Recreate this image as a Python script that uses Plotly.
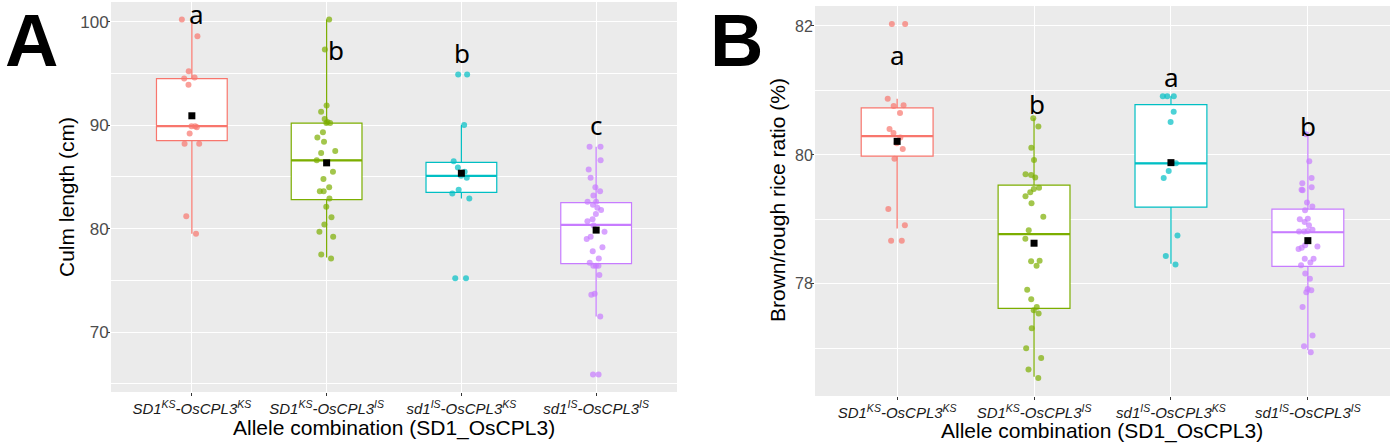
import plotly.graph_objects as go

# ---------------- data ----------------
categories = ["SD1KS-OsCPL3KS", "SD1KS-OsCPL3IS", "sd1IS-OsCPL3KS", "sd1IS-OsCPL3IS"]
tick_labels = [
    "<i>SD1<sup>KS</sup>-OsCPL3<sup>KS</sup></i>",
    "<i>SD1<sup>KS</sup>-OsCPL3<sup>IS</sup></i>",
    "<i>sd1<sup>IS</sup>-OsCPL3<sup>KS</sup></i>",
    "<i>sd1<sup>IS</sup>-OsCPL3<sup>IS</sup></i>",
]

# Panel A: culm length (cm)
culm_g1 = [100.2, 98.6, 95.2, 94.6, 94.5, 93.9, 89.9, 89.9, 89.8, 89.2, 88.2, 88.2, 81.2, 79.5]
culm_g2 = [100.2, 97.3, 91.9, 91.3, 90.6, 90.2, 90.3, 90.2, 89.3, 88.8, 88.4, 87.5, 87.3, 86.6,
           85.5, 84.8, 84.0, 83.6, 83.6, 82.9, 82.1, 81.1, 80.4, 79.7, 79.2, 77.5, 77.1]
culm_g3 = [94.9, 94.9, 90.0, 86.5, 85.9, 85.5, 85.1, 84.9, 83.75, 83.4, 82.9, 75.2, 75.2]
culm_g4 = [87.9, 87.9, 86.6, 85.7, 84.9, 84.0, 83.6, 83.2, 82.6, 82.3, 82.6, 82.0, 81.8, 81.4,
           80.9, 80.7, 80.3, 79.7, 79.2, 79.0, 78.2, 77.8, 77.1, 76.7, 76.4, 76.4, 76.4, 75.5,
           73.7, 73.6, 71.5, 65.9, 65.9]
culm_q1 = [88.5, 82.8, 83.5, 76.6]
culm_median = [89.9, 86.6, 85.1, 80.35]
culm_q3 = [94.5, 90.2, 86.4, 82.5]
culm_lower = [79.5, 77.2, 82.9, 71.5]
culm_upper = [100.2, 100.2, 90.0, 87.9]
culm_mean = [90.9, 86.35, 85.35, 79.85]
culm_letters = ["a", "b", "b", "c"]
culm_letter_y = [100.7, 97.3, 97.0, 90.0]

# Panel B: brown/rough rice ratio (%)
ratio_g1 = [82.03, 82.03, 80.87, 80.77, 80.76, 80.65, 80.40, 80.34, 80.27, 80.18, 80.09, 79.94,
            79.16, 78.91, 78.67, 78.67]
ratio_g2 = [80.57, 80.44, 80.11, 79.92, 79.69, 79.65, 79.70, 79.49, 79.42, 79.47, 79.36, 79.25,
            79.04, 78.83, 78.70, 78.35, 78.28, 78.36, 77.91, 77.76, 77.59, 77.64, 77.54, 77.31,
            77.00, 76.85, 76.67, 76.54]
ratio_g3 = [80.91, 80.91, 80.91, 80.67, 80.51, 79.87, 79.75, 79.64, 78.75, 78.43, 78.30]
ratio_g4 = [80.32, 79.90, 79.64, 79.56, 79.46, 79.45, 79.50, 79.26, 79.20, 79.14, 79.01, 79.00,
            78.96, 78.91, 78.84, 78.81, 78.82, 78.81, 78.54, 78.56, 78.60, 78.58, 78.39, 78.39,
            78.33, 78.29, 78.16, 78.08, 77.90, 77.87, 77.92, 77.64, 77.20, 77.03, 76.94]
ratio_q1 = [79.98, 77.62, 79.19, 78.27]
ratio_median = [80.29, 78.77, 79.87, 78.80]
ratio_q3 = [80.73, 79.53, 80.78, 79.16]
ratio_lower = [78.86, 76.56, 78.31, 76.97]
ratio_upper = [80.87, 80.57, 80.91, 80.32]
ratio_mean = [80.21, 78.63, 79.88, 78.67]
ratio_letters = ["a", "b", "a", "b"]
ratio_letter_y = [81.55, 80.79, 81.21, 80.45]

# ---------------- style ----------------
colors = ["#F8766D", "#7CAE00", "#00BFC4", "#C77CFF"]
culm_letter_shift = [5, 9, 1, 0]
ratio_letter_shift = [0, 3, 1, 0]
W, H = 1390, 448

fig = go.Figure()


def add_panel(groups, q1, med, q3, lo, hi, means, xa, ya):
    for i, cat in enumerate(categories):
        fig.add_trace(go.Box(
            x=[cat], q1=[q1[i]], median=[med[i]], q3=[q3[i]],
            lowerfence=[lo[i]], upperfence=[hi[i]],
            boxpoints=False, fillcolor="white",
            line=dict(color=colors[i], width=1.2), whiskerwidth=0,
            xaxis=xa, yaxis=ya, showlegend=False, hoverinfo="skip"))
        # thicker median line (flat box at the median)
        fig.add_trace(go.Box(
            x=[cat], q1=[med[i]], median=[med[i]], q3=[med[i]],
            lowerfence=[med[i]], upperfence=[med[i]],
            boxpoints=False, fillcolor="rgba(0,0,0,0)",
            line=dict(color=colors[i], width=2.2), whiskerwidth=0,
            xaxis=xa, yaxis=ya, showlegend=False, hoverinfo="skip"))
    for i, cat in enumerate(categories):
        vals = groups[i]
        fig.add_trace(go.Box(
            x=[cat] * len(vals), y=vals, boxpoints="all", jitter=0.32, pointpos=0,
            fillcolor="rgba(0,0,0,0)", line=dict(color="rgba(0,0,0,0)", width=0),
            whiskerwidth=0,
            marker=dict(color=colors[i], size=6, opacity=0.7),
            xaxis=xa, yaxis=ya, showlegend=False, hoverinfo="skip"))
    fig.add_trace(go.Scatter(
        x=categories, y=means, mode="markers",
        marker=dict(symbol="square", color="black", size=7),
        xaxis=xa, yaxis=ya, showlegend=False, hoverinfo="skip"))


add_panel([culm_g1, culm_g2, culm_g3, culm_g4], culm_q1, culm_median, culm_q3,
          culm_lower, culm_upper, culm_mean, "x", "y")
add_panel([ratio_g1, ratio_g2, ratio_g3, ratio_g4], ratio_q1, ratio_median, ratio_q3,
          ratio_lower, ratio_upper, ratio_mean, "x2", "y2")

xt_font = dict(family="Liberation Sans, Arial", size=15, color="#1A1A1A")
common_x = dict(type="category", categoryorder="array", categoryarray=categories,
                range=[-0.6, 3.6], showgrid=True, gridcolor="white", gridwidth=1.2,
                ticks="outside", ticklen=3, tickcolor="#333333", tickangle=0,
                tickvals=categories, ticktext=tick_labels, tickfont=xt_font,
                zeroline=False, showline=False, automargin=False)
common_y = dict(tick0=0, showgrid=True, gridcolor="white", gridwidth=1.2,
                ticks="outside", ticklen=3, tickcolor="#333333", ticklabelstandoff=-5,
                zeroline=False, showline=False, automargin=False)

fig.update_layout(
    width=W, height=H, margin=dict(l=0, r=0, t=0, b=0),
    paper_bgcolor="white", plot_bgcolor="#EBEBEB",
    boxmode="overlay", boxgap=0.25, showlegend=False,
    font=dict(family="Liberation Sans, Arial", color="black"),
    xaxis=dict(domain=[111 / W, 677 / W], anchor="y", **common_x),
    xaxis2=dict(domain=[815 / W, 1.0], anchor="y2", **common_x),
    yaxis=dict(domain=[1 - 392 / H, 1 - 2 / H], anchor="x", range=[64.2, 101.9], dtick=10,
               minor=dict(tick0=0, dtick=5, showgrid=True, gridcolor="white", gridwidth=0.6),
               tickfont=dict(size=17, color="#4D4D4D"), **common_y),
    yaxis2=dict(domain=[1 - 396 / H, 1 - 6 / H], anchor="x2", range=[76.26, 82.31], dtick=2,
                minor=dict(tick0=0, dtick=1, showgrid=True, gridcolor="white", gridwidth=0.6),
                tickfont=dict(size=16, color="#4D4D4D"), **common_y),
)

ann = []
letter_font = dict(family="Noto Sans", size=26, color="black")
for i, cat in enumerate(categories):
    ann.append(dict(x=cat, y=culm_letter_y[i], xref="x", yref="y", text=culm_letters[i],
                    showarrow=False, font=letter_font, xshift=culm_letter_shift[i],
                    xanchor="center", yanchor="middle"))
    ann.append(dict(x=cat, y=ratio_letter_y[i], xref="x2", yref="y2", text=ratio_letters[i],
                    showarrow=False, font=letter_font, xshift=ratio_letter_shift[i],
                    xanchor="center", yanchor="middle"))

title_font = dict(family="Liberation Sans, Arial", size=21, color="black")
panel_font = dict(family="Liberation Sans, Arial", size=74, color="black")
paper_texts = [
    (67, 197, "Culm length (cm)", -90, title_font),
    (777, 200, "Brown/rough rice ratio (%)", -90, title_font),
    (394, 428, "Allele combination (SD1_OsCPL3)", 0, title_font),
    (1102, 431, "Allele combination (SD1_OsCPL3)", 0, title_font),
    (31, 40, "<b>A</b>", 0, panel_font),
    (736, 40, "<b>B</b>", 0, panel_font),
]
for px, py, txt, ang, fnt in paper_texts:
    ann.append(dict(x=px / W, y=1 - py / H, xref="paper", yref="paper", text=txt,
                    textangle=ang, showarrow=False, font=fnt,
                    xanchor="center", yanchor="middle"))
fig.update_layout(annotations=ann)

fig.write_html("out.html")
